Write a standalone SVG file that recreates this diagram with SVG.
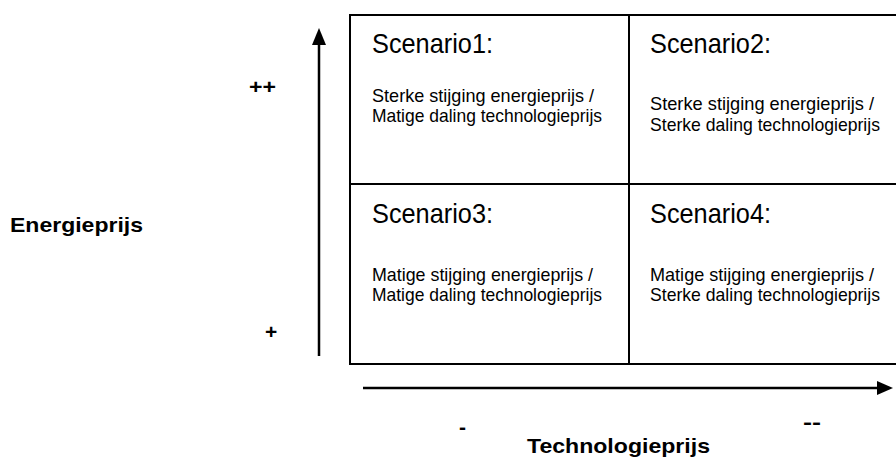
<svg xmlns="http://www.w3.org/2000/svg" width="896" height="467" viewBox="0 0 896 467">
<style>
.grid{fill:none;stroke:#000;stroke-width:2}
.ax{stroke:#000;stroke-width:2.5;fill:none}
.head{fill:#000}
.h{font-family:"Liberation Sans Narrow","Liberation Sans",Arial,sans-serif;font-size:28px;fill:#000}
.b{font-family:"Liberation Sans Narrow","Liberation Sans",Arial,sans-serif;font-size:19px;fill:#000}
.lab{font-family:"Liberation Sans",Arial,sans-serif;font-size:21px;font-weight:bold;fill:#000}
</style>
<rect width="896" height="467" fill="#fff"/>
<g id="connectors">
<line class="ax" x1="319" y1="356" x2="319" y2="44"/>
<polygon class="head" points="319,28 312,45 326,45"/>
<line class="ax" x1="363" y1="388" x2="878" y2="388"/>
<polygon class="head" points="893,388 877,381 877,395"/>
</g>
<g id="grid">
<rect class="grid" x="350" y="15" width="560" height="349"/>
<line class="grid" x1="629" y1="15" x2="629" y2="364"/>
<line class="grid" x1="350" y1="184" x2="910" y2="184"/>
</g>
<g id="scenario1">
<text class="h" x="372" y="53" textLength="121" lengthAdjust="spacingAndGlyphs">Scenario1:</text>
<text class="b" x="372" y="102" textLength="222" lengthAdjust="spacingAndGlyphs">Sterke stijging energieprijs /</text>
<text class="b" x="372" y="122" textLength="230" lengthAdjust="spacingAndGlyphs">Matige daling technologieprijs</text>
</g>
<g id="scenario2">
<text class="h" x="650" y="53" textLength="121" lengthAdjust="spacingAndGlyphs">Scenario2:</text>
<text class="b" x="650" y="110" textLength="224" lengthAdjust="spacingAndGlyphs">Sterke stijging energieprijs /</text>
<text class="b" x="650" y="131" textLength="230" lengthAdjust="spacingAndGlyphs">Sterke daling technologieprijs</text>
</g>
<g id="scenario3">
<text class="h" x="372" y="223" textLength="121" lengthAdjust="spacingAndGlyphs">Scenario3:</text>
<text class="b" x="372" y="281" textLength="221" lengthAdjust="spacingAndGlyphs">Matige stijging energieprijs /</text>
<text class="b" x="372" y="301" textLength="230" lengthAdjust="spacingAndGlyphs">Matige daling technologieprijs</text>
</g>
<g id="scenario4">
<text class="h" x="650" y="223" textLength="121" lengthAdjust="spacingAndGlyphs">Scenario4:</text>
<text class="b" x="650" y="281" textLength="224" lengthAdjust="spacingAndGlyphs">Matige stijging energieprijs /</text>
<text class="b" x="650" y="301" textLength="230" lengthAdjust="spacingAndGlyphs">Sterke daling technologieprijs</text>
</g>
<g id="labels">
<text class="lab" x="249" y="94" textLength="27" lengthAdjust="spacingAndGlyphs">++</text>
<text class="lab" x="265" y="339">+</text>
<text class="lab" x="10" y="232" textLength="133" lengthAdjust="spacingAndGlyphs">Energieprijs</text>
<text class="lab" x="459" y="434">-</text>
<text class="lab" x="803" y="429" textLength="18" lengthAdjust="spacingAndGlyphs">--</text>
<text class="lab" x="527" y="453" textLength="183" lengthAdjust="spacingAndGlyphs">Technologieprijs</text>
</g>
</svg>
